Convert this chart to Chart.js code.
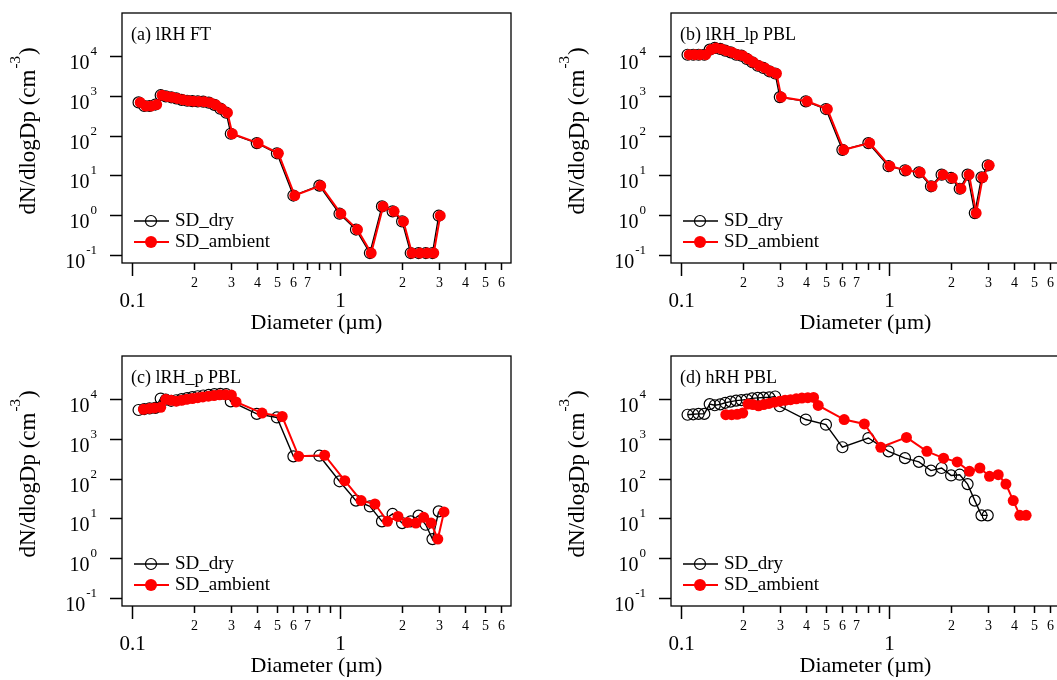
<!DOCTYPE html>
<html>
<head>
<meta charset="utf-8">
<script src="https://cdn.jsdelivr.net/npm/chart.js@4.4.0/dist/chart.umd.min.js"></script>
<style>
  html, body { margin: 0; padding: 0; background: #fff; overflow: hidden; width: 1057px; height: 680px; }
  .panel { position: absolute; width: 549px; height: 343px; }
</style>
</head>
<body>
<div class="panel" style="left:0;top:0"><canvas id="chartA" width="549" height="343"></canvas></div>
<div class="panel" style="left:549px;top:0"><canvas id="chartB" width="549" height="343"></canvas></div>
<div class="panel" style="left:0;top:343px"><canvas id="chartC" width="549" height="343"></canvas></div>
<div class="panel" style="left:549px;top:343px"><canvas id="chartD" width="549" height="343"></canvas></div>
<script>
// diameters (um) of the dry size bins
const dryDia = [0.108, 0.115, 0.122, 0.130, 0.138, 0.146, 0.155, 0.164, 0.174, 0.185, 0.196, 0.208, 0.221, 0.235, 0.250, 0.267, 0.285,
  0.30, 0.40, 0.50, 0.60, 0.80, 1.0, 1.2, 1.4, 1.6, 1.8, 2.0, 2.2, 2.4, 2.6, 2.8, 3.0];
// ambient diameters (grown particles)
const ambDiaLow = [0.110, 0.117, 0.124, 0.132, 0.140, 0.148, 0.157, 0.166, 0.177, 0.188, 0.199, 0.211, 0.224, 0.239, 0.254, 0.271, 0.289,
  0.305, 0.406, 0.508, 0.609, 0.812, 1.015, 1.22, 1.42, 1.62, 1.83, 2.03, 2.23, 2.44, 2.64, 2.84, 3.05];
const ambDiaC = [0.114, 0.122, 0.129, 0.138, 0.146, 0.155, 0.164, 0.174, 0.184, 0.196, 0.208, 0.220, 0.234, 0.249, 0.265, 0.283, 0.302,
  0.318, 0.424, 0.53, 0.636, 0.848, 1.06, 1.27, 1.48, 1.70, 1.91, 2.12, 2.33, 2.54, 2.76, 2.97, 3.18];
const ambDiaD = [0.165, 0.176, 0.187, 0.199, 0.211, 0.223, 0.237, 0.251, 0.266, 0.283, 0.300, 0.318, 0.338, 0.360, 0.383, 0.409, 0.436,
  0.459, 0.612, 0.765, 0.918, 1.22, 1.53, 1.84, 2.14, 2.45, 2.75, 3.06, 3.37, 3.67, 3.98, 4.28, 4.59];

// dN/dlogDp (cm-3)
const dryA = [690, 560, 560, 610, 1050, 980, 930, 870, 800, 760, 740, 730, 720, 680, 600, 480, 380,
  112, 65, 36, 3.1, 5.5, 1.08, 0.43, 0.11, 1.65, 1.24, 0.69, 0.11, 0.11, 0.11, 0.11, 0.96];
const ambA = [690, 560, 560, 610, 1050, 980, 930, 870, 800, 760, 740, 730, 720, 680, 600, 480, 380,
  112, 65, 36, 3.1, 5.5, 1.08, 0.43, 0.11, 1.65, 1.24, 0.69, 0.11, 0.11, 0.11, 0.11, 0.96];
const dryB = [11000, 11000, 11000, 11000, 14800, 16300, 15400, 13900, 12600, 11000, 10400, 8600, 7100, 5800, 5100, 4200, 3700,
  940, 735, 470, 44, 65, 17, 13.4, 11.9, 5.3, 10.4, 8.6, 4.6, 10.4, 1.12, 8.9, 17.9];
const ambB = [11000, 11000, 11000, 11000, 14800, 16300, 15400, 13900, 12600, 11000, 10400, 8600, 7100, 5800, 5100, 4200, 3700,
  940, 735, 470, 44, 65, 17, 13.4, 11.9, 5.3, 10.4, 8.6, 4.6, 10.4, 1.12, 8.9, 17.9];
const dryC = [5400, 5700, 5900, 6100, 10500, 9800, 9200, 9500, 10200, 10800, 11400, 12000, 12500, 13000, 13500, 13800, 13500,
  8900, 4300, 3500, 366, 380, 86, 28, 20, 8.4, 12.9, 7.6, 8.4, 11.7, 6.9, 3.0, 15];
const ambC = [5600, 5900, 6100, 6300, 10000, 9500, 9000, 9500, 10000, 10500, 11000, 11500, 12000, 12500, 13000, 13000, 12800,
  8600, 4500, 3700, 366, 390, 89, 28, 23, 8.4, 11.2, 7.9, 7.6, 10.6, 7.6, 3.0, 14.5];
const dryD = [4100, 4200, 4300, 4300, 7600, 7100, 7500, 8200, 8800, 9300, 9600, 9900, 10600, 10900, 11100, 11200, 11800,
  6700, 3100, 2300, 620, 1060, 490, 330, 265, 160, 186, 121, 126, 73, 28, 11.9, 11.9];
const ambD = [4100, 4100, 4200, 4500, 7600, 7400, 6900, 7400, 7900, 8500, 9000, 9500, 9800, 10300, 10800, 11000, 11200,
  7050, 3100, 2400, 620, 1100, 490, 330, 265, 153, 186, 115, 126, 73, 28, 11.9, 11.9];

// axis ticks
const xTickVals = [0.1, 0.2, 0.3, 0.4, 0.5, 0.6, 0.7, 0.8, 0.9, 1, 2, 3, 4, 5, 6];
const xTickText = ['0.1', '2', '3', '4', '5', '6', '7', '', '', '1', '2', '3', '4', '5', '6'];
const yTickVals = [0.1, 1, 10, 100, 1000, 10000];
const yTickExp = ['-1', '0', '1', '2', '3', '4'];

const FONT = '"Liberation Serif", "Times New Roman", serif';

// frame, ticks, labels and legend drawn R-style
const frameAxes = {
  id: 'frameAxes',
  afterDatasetsDraw(chart, args, opts) {
    const ctx = chart.ctx, a = chart.chartArea;
    const xs = chart.scales.x, ys = chart.scales.y;
    ctx.save();
    ctx.strokeStyle = '#000';
    ctx.fillStyle = '#000';
    ctx.lineWidth = 1.3;
    ctx.strokeRect(a.left, a.top, a.right - a.left, a.bottom - a.top);

    // x ticks
    ctx.lineWidth = 1.5;
    xTickVals.forEach((v, i) => {
      const px = Math.round(xs.getPixelForValue(v)) + 0.5;
      const major = (v === 0.1 || v === 1);
      ctx.beginPath();
      ctx.moveTo(px, a.bottom);
      ctx.lineTo(px, a.bottom + (major ? 13 : 7));
      ctx.stroke();
      if (xTickText[i]) {
        ctx.textAlign = 'center';
        ctx.textBaseline = 'middle';
        if (major) {
          ctx.font = '21px ' + FONT;
          ctx.fillText(xTickText[i], px, a.bottom + 38);
        } else {
          ctx.font = '14px ' + FONT;
          ctx.fillText(xTickText[i], px, a.bottom + 20);
        }
      }
    });

    // y ticks
    yTickVals.forEach((v, i) => {
      const py = Math.round(ys.getPixelForValue(v)) + 0.5;
      ctx.beginPath();
      ctx.moveTo(a.left, py);
      ctx.lineTo(a.left - 12, py);
      ctx.stroke();
      ctx.textAlign = 'right';
      ctx.textBaseline = 'middle';
      ctx.font = '13px ' + FONT;
      const right = a.left - 25;
      ctx.fillText(yTickExp[i], right, py - 5);
      const ew = ctx.measureText(yTickExp[i]).width;
      ctx.font = '20px ' + FONT;
      ctx.fillText('10', right - ew - 1, py + 7);
    });

    // x title
    ctx.font = '22px ' + FONT;
    ctx.textAlign = 'center';
    ctx.textBaseline = 'middle';
    ctx.fillText('Diameter (\u00b5m)', (a.left + a.right) / 2, a.bottom + 60);

    // y title, rotated, with superscript
    ctx.save();
    ctx.translate(29, (a.top + a.bottom) / 2 - 6);
    ctx.rotate(-Math.PI / 2);
    const main = 'dN/dlogDp (cm', sup = '-3', tail = ')';
    ctx.font = '23px ' + FONT;
    const wMain = ctx.measureText(main).width, wTail = ctx.measureText(tail).width;
    ctx.font = '15px ' + FONT;
    const wSup = ctx.measureText(sup).width;
    const total = wMain + wSup + wTail;
    let x0 = -total / 2;
    ctx.textAlign = 'left';
    ctx.textBaseline = 'middle';
    ctx.font = '23px ' + FONT;
    ctx.fillText(main, x0, 0);
    ctx.font = '15px ' + FONT;
    ctx.fillText(sup, x0 + wMain + 1, -13);
    ctx.font = '23px ' + FONT;
    ctx.fillText(tail, x0 + wMain + wSup + 2, 0);
    ctx.restore();

    // panel label
    ctx.font = '18px ' + FONT;
    ctx.textAlign = 'left';
    ctx.textBaseline = 'middle';
    ctx.fillText(opts.title, a.left + 9, a.top + 22);

    // legend
    const ly1 = a.bottom - 42, ly2 = a.bottom - 21;
    const lx0 = a.left + 12, lx1 = a.left + 47, lxc = a.left + 29;
    ctx.strokeStyle = '#000';
    ctx.lineWidth = 1.4;
    ctx.beginPath(); ctx.moveTo(lx0, ly1); ctx.lineTo(lx1, ly1); ctx.stroke();
    ctx.lineWidth = 1.2;
    ctx.beginPath(); ctx.arc(lxc, ly1, 5.5, 0, Math.PI * 2); ctx.stroke();
    ctx.strokeStyle = '#ff0000';
    ctx.lineWidth = 2;
    ctx.beginPath(); ctx.moveTo(lx0, ly2); ctx.lineTo(lx1, ly2); ctx.stroke();
    ctx.fillStyle = '#ff0000';
    ctx.beginPath(); ctx.arc(lxc, ly2, 6, 0, Math.PI * 2); ctx.fill();
    ctx.fillStyle = '#000';
    ctx.font = '19px ' + FONT;
    ctx.fillText('SD_dry', a.left + 53, ly1);
    ctx.fillText('SD_ambient', a.left + 53, ly2);
    ctx.restore();
  }
};

function makeChart(id, title, dryY, ambDia, ambY) {
  const pts = (xs, ys) => xs.map((d, i) => ({ x: d, y: ys[i] }));
  return new Chart(document.getElementById(id), {
    type: 'line',
    data: {
      datasets: [
        {
          label: 'SD_ambient',
          data: pts(ambDia, ambY),
          borderColor: '#ff0000',
          borderWidth: 2,
          pointRadius: 5.5,
          pointBorderWidth: 0,
          pointBackgroundColor: '#ff0000',
          pointBorderColor: '#ff0000'
        },
        {
          label: 'SD_dry',
          data: pts(dryDia, dryY),
          borderColor: '#000000',
          borderWidth: 1.4,
          pointRadius: 5.5,
          pointBorderWidth: 1.2,
          pointBackgroundColor: 'rgba(0,0,0,0)',
          pointBorderColor: '#000000'
        }
      ]
    },
    options: {
      responsive: false,
      animation: false,
      layout: { padding: { top: 13, right: 38, left: 0, bottom: 0 } },
      plugins: {
        legend: { display: false },
        tooltip: { enabled: false },
        frameAxes: { title: title }
      },
      scales: {
        x: {
          type: 'logarithmic', min: 0.0899, max: 6.68,
          ticks: { display: false }, grid: { display: false }, border: { display: false },
          afterFit(s) { s.height = 80; }
        },
        y: {
          type: 'logarithmic', min: 0.0617, max: 124000,
          ticks: { display: false }, grid: { display: false }, border: { display: false },
          afterFit(s) { s.width = 122; }
        }
      }
    },
    plugins: [frameAxes]
  });
}

makeChart('chartA', '(a) lRH FT', dryA, ambDiaLow, ambA);
makeChart('chartB', '(b) lRH_lp PBL', dryB, ambDiaLow, ambB);
makeChart('chartC', '(c) lRH_p PBL', dryC, ambDiaC, ambC);
makeChart('chartD', '(d) hRH PBL', dryD, ambDiaD, ambD);
</script>
</body>
</html>
